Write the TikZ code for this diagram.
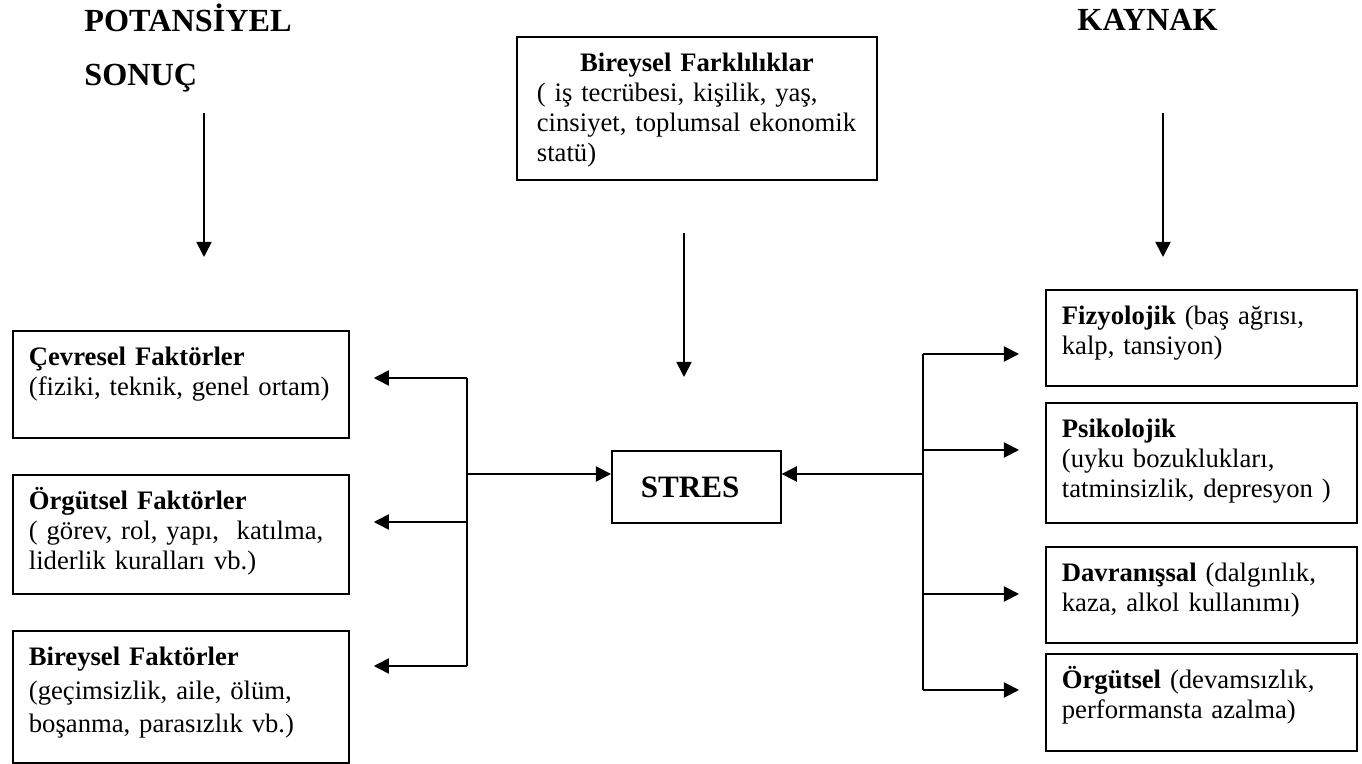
\documentclass[tikz,border=0pt]{standalone}
\usepackage{fontspec}
\setmainfont{Liberation Serif}
\usetikzlibrary{arrows.meta}

\tikzset{
  kutu/.style={draw, line width=0.8pt, anchor=north west, align=left,
    inner xsep=7.2pt, inner ysep=6.75pt, text height=9pt,
    font=\fontsize{12pt}{13.5pt}\selectfont},
  baslik/.style={anchor=base west, inner sep=0pt, font=\fontsize{14.5pt}{16pt}\selectfont\bfseries},
  hat/.style={line width=0.8pt},
  ok/.style={hat, -{Triangle[length=6.8pt,width=6.8pt]}}
}

\begin{document}
\begin{tikzpicture}[x=0.45pt, y=-0.45pt]
      \useasboundingbox (0,0) rectangle (1362,764);

      % basliklar
      \node[baslik] (potansiyel) at (84,32) {POTANSİYEL};
      \node[baslik] (sonuc) at (84,86) {SONUÇ};
      \node[baslik] (kaynak) at (1077,31) {KAYNAK};

      % kutular
      \node[kutu, inner xsep=9pt, text width=144pt, text depth=41.85pt] (fark) at (516,36)
        {\makebox[144pt][c]{\textbf{Bireysel Farklılıklar}}\\
         ( iş tecrübesi, kişilik, yaş,\\ cinsiyet, toplumsal ekonomik\\ statü)};

      \node[kutu, text width=136.8pt, text depth=25.65pt] (cevre) at (12,330)
        {\textbf{Çevresel Faktörler}\\ (fiziki, teknik, genel ortam)};
      \node[kutu, text width=136.8pt, text depth=31.05pt] (orgut) at (12,474)
        {\textbf{Örgütsel Faktörler}\\ ( görev, rol, yapı,\ \ katılma,\\ liderlik kuralları vb.)};
      \node[kutu, text width=136.8pt, text depth=36.9pt, font=\fontsize{12pt}{15pt}\selectfont] (birey) at (12,630)
        {\textbf{Bireysel Faktörler}\\ (geçimsizlik, aile, ölüm,\\ boşanma, parasızlık vb.)};

      \node[draw, line width=0.8pt, anchor=north west, minimum width=76pt, minimum height=32.4pt,
        inner xsep=13pt, text width=50pt, align=left,
        font=\fontsize{14pt}{16pt}\selectfont\bfseries] (stres) at (611,450) {STRES};

      \node[kutu, text width=125.6pt, text depth=20.7pt] (fizyo) at (1045,289)
        {\textbf{Fizyolojik} (baş ağrısı,\\ kalp, tansiyon)};
      \node[kutu, text width=125.6pt, text depth=31.5pt] (psiko) at (1045,402)
        {\textbf{Psikolojik}\\ (uyku bozuklukları,\\ tatminsizlik, depresyon )};
      \node[kutu, text width=125.6pt, text depth=20.7pt] (davran) at (1045,546)
        {\textbf{Davranışsal} (dalgınlık,\\ kaza, alkol kullanımı)};
      \node[kutu, text width=125.6pt, text depth=21.15pt] (orgsel) at (1045,653)
        {\textbf{Örgütsel} (devamsızlık,\\ performansta azalma)};

      % dikey oklar
      \coordinate (p1) at (204,113);
      \coordinate (p2) at (204,257);
      \coordinate (k1) at (1163,113);
      \coordinate (k2) at (1163,257);
      \coordinate (f1) at (684,233);
      \coordinate (f2) at (684,377);
      \draw[ok] (p1) -- (p2);
      \draw[ok] (k1) -- (k2);
      \draw[ok] (f1) -- (f2);

      % sol taraf
      \coordinate (sol1) at (467,378);
      \coordinate (sol2) at (467,522);
      \coordinate (sol3) at (467,666);
      \coordinate (solS) at (467,474);
      \draw[hat] (sol1) -- (sol3);
      \draw[ok, shorten >=10.8pt] (sol1) -- (sol1 -| cevre.east);
      \draw[ok, shorten >=10.8pt] (sol2) -- (sol2 -| orgut.east);
      \draw[ok, shorten >=10.8pt] (sol3) -- (sol3 -| birey.east);
      \draw[ok] (solS) -- (solS -| stres.west);

      % sag taraf
      \coordinate (sag1) at (923,354);
      \coordinate (sag2) at (923,450);
      \coordinate (sag3) at (923,594);
      \coordinate (sag4) at (923,690);
      \coordinate (sagS) at (923,474);
      \draw[hat] (sag1) -- (sag4);
      \draw[ok, shorten >=11.7pt] (sag1) -- (sag1 -| fizyo.west);
      \draw[ok, shorten >=11.7pt] (sag2) -- (sag2 -| psiko.west);
      \draw[ok, shorten >=11.7pt] (sag3) -- (sag3 -| davran.west);
      \draw[ok, shorten >=11.7pt] (sag4) -- (sag4 -| orgsel.west);
      \draw[ok] (sagS) -- (sagS -| stres.east);
\end{tikzpicture}
\end{document}
